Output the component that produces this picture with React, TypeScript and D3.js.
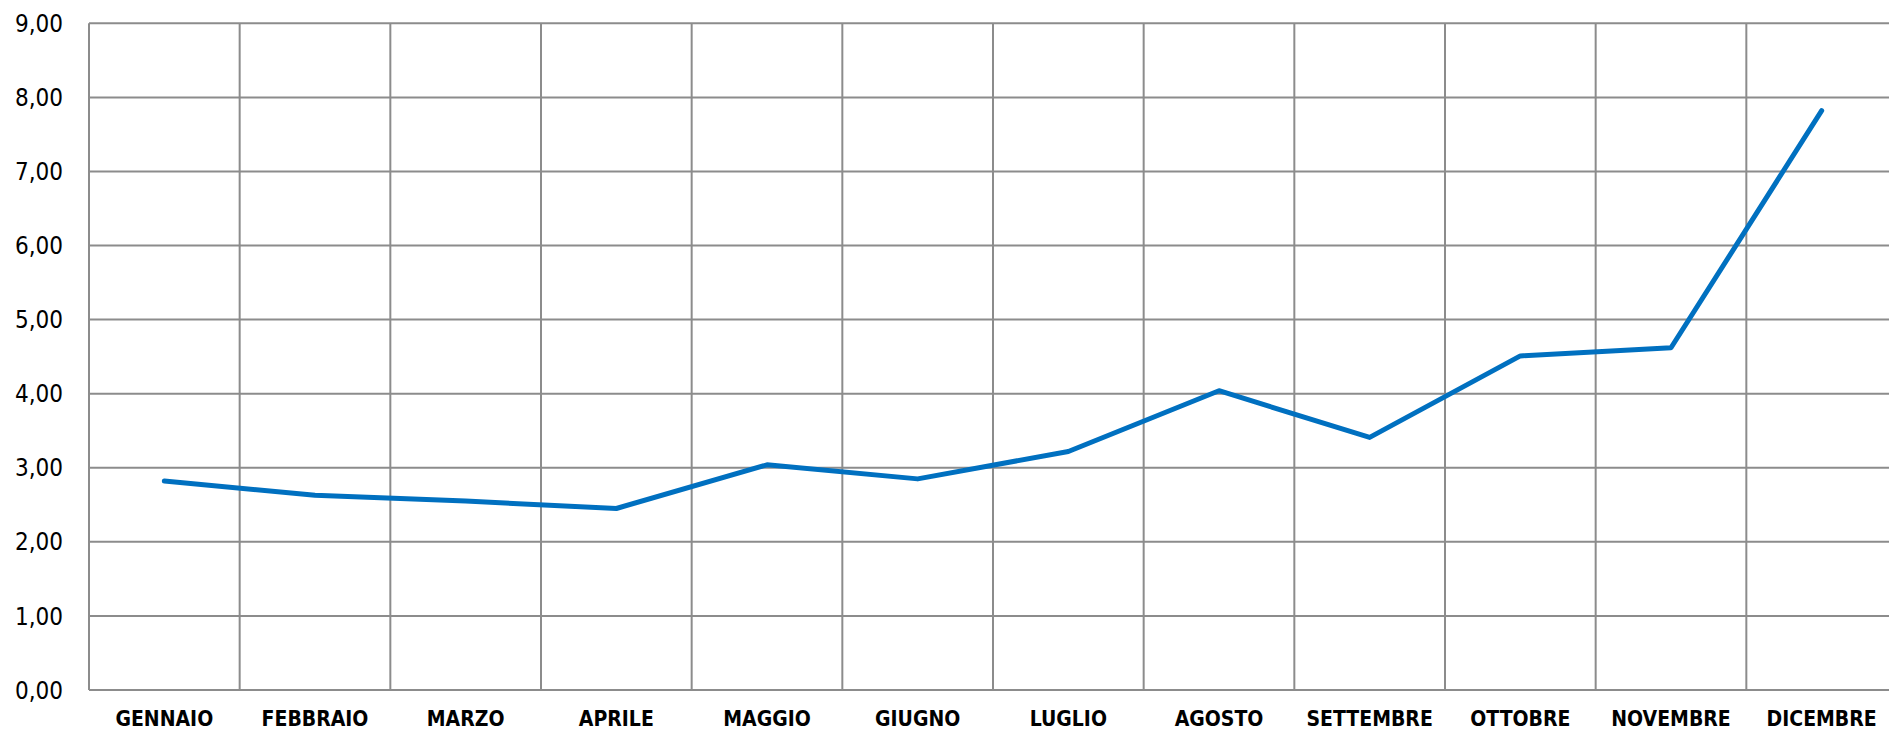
import React, { useEffect, useRef } from "react";
import * as d3 from "d3";

const months = [
  "GENNAIO", "FEBBRAIO", "MARZO", "APRILE", "MAGGIO", "GIUGNO",
  "LUGLIO", "AGOSTO", "SETTEMBRE", "OTTOBRE", "NOVEMBRE", "DICEMBRE",
];
const values = [2.82, 2.63, 2.55, 2.45, 3.04, 2.85, 3.22, 4.04, 3.41, 4.51, 4.62, 7.82];
const yTicks = [0, 1, 2, 3, 4, 5, 6, 7, 8, 9];

const W = 1889;
const H = 731;
const M = { left: 89, top: 23.3, right: 1897, bottom: 690 };

export default function App() {
  const ref = useRef<SVGSVGElement | null>(null);

  useEffect(() => {
    const svg = d3.select(ref.current);
    svg.selectAll("*").remove();

    const x = d3.scaleBand<string>().domain(months).range([M.left, M.right]).padding(0);
    const y = d3.scaleLinear().domain([0, 9]).range([M.bottom, M.top]);
    const loc = d3.formatLocale({ decimal: ",", thousands: ".", grouping: [3], currency: ["€", ""] });
    const fmt = loc.format(".2f");
    const grid = "#8c8c8c";
    const font = "'DejaVu Sans Condensed', 'DejaVu Sans', sans-serif";

    const g = svg.append("g");
    // horizontal gridlines
    g.selectAll("line.h")
      .data(yTicks)
      .enter()
      .append("line")
      .attr("x1", M.left)
      .attr("x2", M.right)
      .attr("y1", (d) => y(d))
      .attr("y2", (d) => y(d))
      .attr("stroke", grid)
      .attr("stroke-width", 2);
    // vertical gridlines at category boundaries
    const bounds = months.map((m) => x(m)!).concat([M.right]);
    g.selectAll("line.v")
      .data(bounds)
      .enter()
      .append("line")
      .attr("x1", (d) => d)
      .attr("x2", (d) => d)
      .attr("y1", M.top)
      .attr("y2", M.bottom)
      .attr("stroke", grid)
      .attr("stroke-width", 2);

    // y labels
    g.selectAll("text.y")
      .data(yTicks)
      .enter()
      .append("text")
      .attr("x", 63)
      .attr("y", (d) => y(d))
      .attr("dy", "0.36em")
      .attr("text-anchor", "end")
      .attr("font-family", font)
      .attr("font-size", 24)
      .attr("fill", "#000")
      .text((d) => fmt(d));

    // x labels
    g.selectAll("text.x")
      .data(months)
      .enter()
      .append("text")
      .attr("x", (d) => x(d)! + x.bandwidth() / 2)
      .attr("y", 718)
      .attr("dy", "0.36em")
      .attr("text-anchor", "middle")
      .attr("font-family", font)
      .attr("font-weight", "bold")
      .attr("font-size", 21)
      .attr("fill", "#000")
      .text((d) => d);

    const line = d3
      .line<number>()
      .x((_, i) => x(months[i])! + x.bandwidth() / 2)
      .y((d) => y(d));
    g.append("path")
      .datum(values)
      .attr("d", line)
      .attr("fill", "none")
      .attr("stroke", "#0070C0")
      .attr("stroke-width", 5)
      .attr("stroke-linecap", "round")
      .attr("stroke-linejoin", "round");
  }, []);

  return (
    <svg
      ref={ref}
      width={W}
      height={H}
      style={{ position: "absolute", left: 0, top: 0, background: "#fff" }}
    />
  );
}
